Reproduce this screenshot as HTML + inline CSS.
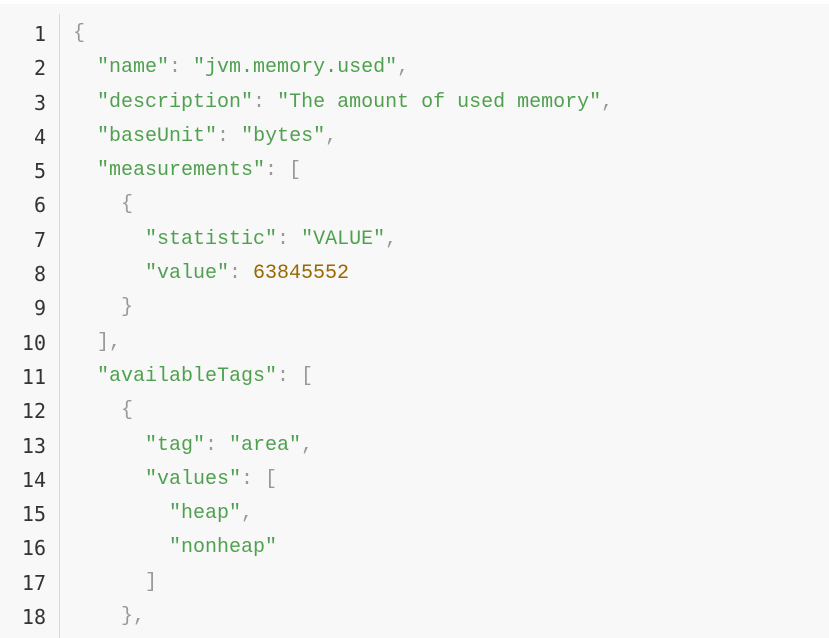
<!DOCTYPE html>
<html><head><style>
html,body{margin:0;padding:0;width:829px;height:638px;overflow:hidden;background:#fff}
.box{position:absolute;left:0;top:4px;width:829px;height:634px;background:#f8f8f8}
.sep{position:absolute;left:59px;top:14px;width:1px;height:624px;background:#d8d8d8}
.ln,.code{position:absolute;top:17px;font-size:20px;line-height:34.3px;white-space:pre}
.ln{left:0;width:46px;text-align:right;color:#333;font-family:"DejaVu Sans Mono",monospace;font-size:20px}
.code{left:73px;color:#999;font-family:"Liberation Mono",monospace}
.s{color:#50a14f}.n{color:#986801}
</style></head><body>
<div class="box"></div><div class="sep"></div>
<div class="ln">1
2
3
4
5
6
7
8
9
10
11
12
13
14
15
16
17
18</div>
<div class="code">{
  <span class="s">"name"</span>: <span class="s">"jvm.memory.used"</span>,
  <span class="s">"description"</span>: <span class="s">"The amount of used memory"</span>,
  <span class="s">"baseUnit"</span>: <span class="s">"bytes"</span>,
  <span class="s">"measurements"</span>: [
    {
      <span class="s">"statistic"</span>: <span class="s">"VALUE"</span>,
      <span class="s">"value"</span>: <span class="n">63845552</span>
    }
  ],
  <span class="s">"availableTags"</span>: [
    {
      <span class="s">"tag"</span>: <span class="s">"area"</span>,
      <span class="s">"values"</span>: [
        <span class="s">"heap"</span>,
        <span class="s">"nonheap"</span>
      ]
    },</div>
</body></html>
